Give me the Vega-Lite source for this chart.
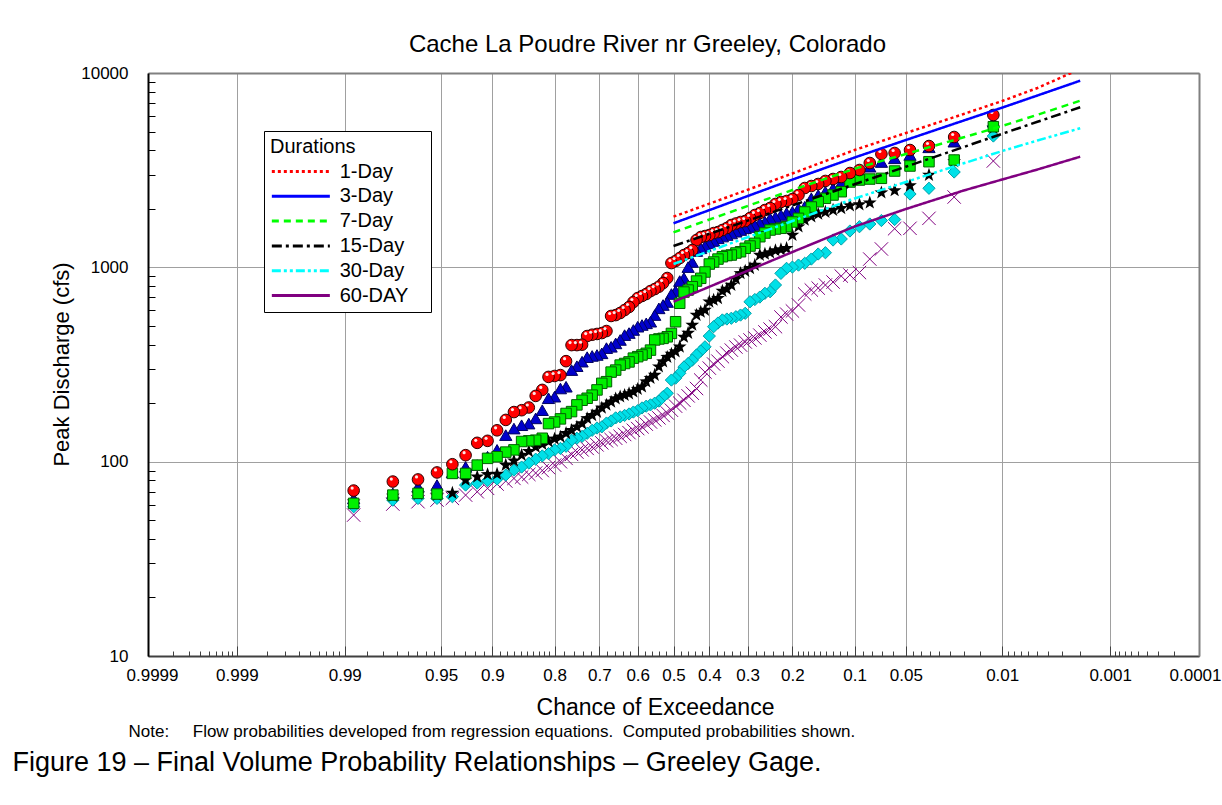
{
  "$schema": "https://vega.github.io/schema/vega-lite/v6.json",
  "width": 1051,
  "height": 583,
  "autosize": {"type": "none"},
  "padding": {"left": 148, "top": 73, "right": 23, "bottom": 149},
  "background": "white",
  "datasets": {
    "d1": [{"p":0.0118,"v":6079},{"p":0.0235,"v":4684},{"p":0.0353,"v":4210},{"p":0.0471,"v":4015},{"p":0.0588,"v":3876},{"p":0.0706,"v":3830},{"p":0.0824,"v":3442},{"p":0.0941,"v":3168},{"p":0.1059,"v":3057},{"p":0.1176,"v":2916},{"p":0.1294,"v":2848},{"p":0.1412,"v":2782},{"p":0.1529,"v":2684},{"p":0.1647,"v":2620},{"p":0.1765,"v":2559},{"p":0.1882,"v":2356},{"p":0.2,"v":2246},{"p":0.2118,"v":2194},{"p":0.2235,"v":2169},{"p":0.2353,"v":2118},{"p":0.2471,"v":2020},{"p":0.2588,"v":1972},{"p":0.2706,"v":1903},{"p":0.2824,"v":1859},{"p":0.2941,"v":1794},{"p":0.3059,"v":1731},{"p":0.3176,"v":1711},{"p":0.3294,"v":1681},{"p":0.3412,"v":1651},{"p":0.3529,"v":1594},{"p":0.3647,"v":1556},{"p":0.3765,"v":1519},{"p":0.3882,"v":1501},{"p":0.4,"v":1466},{"p":0.4118,"v":1449},{"p":0.4235,"v":1432},{"p":0.4353,"v":1382},{"p":0.4471,"v":1227},{"p":0.4588,"v":1185},{"p":0.4706,"v":1157},{"p":0.4824,"v":1117},{"p":0.4941,"v":1078},{"p":0.5059,"v":1052},{"p":0.5176,"v":881},{"p":0.5294,"v":830},{"p":0.5412,"v":795},{"p":0.5529,"v":773},{"p":0.5647,"v":755},{"p":0.5765,"v":729},{"p":0.5882,"v":712},{"p":0.6,"v":695},{"p":0.6118,"v":663},{"p":0.6235,"v":625},{"p":0.6353,"v":603},{"p":0.6471,"v":582},{"p":0.6588,"v":568},{"p":0.6706,"v":562},{"p":0.6824,"v":470},{"p":0.6941,"v":459},{"p":0.7059,"v":454},{"p":0.7176,"v":450},{"p":0.7294,"v":443},{"p":0.7412,"v":400},{"p":0.7529,"v":398},{"p":0.7647,"v":398},{"p":0.7765,"v":329},{"p":0.7882,"v":279},{"p":0.8,"v":276},{"p":0.8118,"v":273},{"p":0.8235,"v":234},{"p":0.8353,"v":218},{"p":0.8471,"v":190},{"p":0.8588,"v":184},{"p":0.8706,"v":180},{"p":0.8824,"v":164},{"p":0.8941,"v":145},{"p":0.9059,"v":128},{"p":0.9176,"v":125},{"p":0.9294,"v":108},{"p":0.9412,"v":97},{"p":0.9529,"v":88},{"p":0.9647,"v":81},{"p":0.9765,"v":79},{"p":0.9882,"v":71}],
    "d3": [{"p":0.0118,"v":5616},{"p":0.0235,"v":4431},{"p":0.0353,"v":4146},{"p":0.0471,"v":3784},{"p":0.0588,"v":3639},{"p":0.0706,"v":3483},{"p":0.0824,"v":3295},{"p":0.0941,"v":3046},{"p":0.1059,"v":2950},{"p":0.1176,"v":2716},{"p":0.1294,"v":2551},{"p":0.1412,"v":2450},{"p":0.1529,"v":2356},{"p":0.1647,"v":2266},{"p":0.1765,"v":2051},{"p":0.1882,"v":2012},{"p":0.2,"v":1933},{"p":0.2118,"v":1903},{"p":0.2235,"v":1859},{"p":0.2353,"v":1815},{"p":0.2471,"v":1787},{"p":0.2588,"v":1717},{"p":0.2706,"v":1690},{"p":0.2824,"v":1651},{"p":0.2941,"v":1612},{"p":0.3059,"v":1588},{"p":0.3176,"v":1556},{"p":0.3294,"v":1525},{"p":0.3412,"v":1493},{"p":0.3529,"v":1466},{"p":0.3647,"v":1440},{"p":0.3765,"v":1410},{"p":0.3882,"v":1366},{"p":0.4,"v":1329},{"p":0.4118,"v":1287},{"p":0.4235,"v":1253},{"p":0.4353,"v":1213},{"p":0.4471,"v":1065},{"p":0.4588,"v":1003},{"p":0.4706,"v":881},{"p":0.4824,"v":850},{"p":0.4941,"v":755},{"p":0.5059,"v":729},{"p":0.5176,"v":663},{"p":0.5294,"v":640},{"p":0.5412,"v":615},{"p":0.5529,"v":568},{"p":0.5647,"v":525},{"p":0.5765,"v":515},{"p":0.5882,"v":505},{"p":0.6,"v":495},{"p":0.6118,"v":476},{"p":0.6235,"v":459},{"p":0.6353,"v":448},{"p":0.6471,"v":423},{"p":0.6588,"v":406},{"p":0.6706,"v":390},{"p":0.6824,"v":384},{"p":0.6941,"v":361},{"p":0.7059,"v":354},{"p":0.7176,"v":350},{"p":0.7294,"v":345},{"p":0.7412,"v":327},{"p":0.7529,"v":310},{"p":0.7647,"v":296},{"p":0.7765,"v":243},{"p":0.7882,"v":238},{"p":0.8,"v":216},{"p":0.8118,"v":212},{"p":0.8235,"v":184},{"p":0.8353,"v":167},{"p":0.8471,"v":157},{"p":0.8588,"v":154},{"p":0.8706,"v":148},{"p":0.8824,"v":137},{"p":0.8941,"v":115},{"p":0.9059,"v":106},{"p":0.9176,"v":96},{"p":0.9294,"v":94},{"p":0.9412,"v":88},{"p":0.9529,"v":75.8},{"p":0.9647,"v":74.3},{"p":0.9765,"v":68.7},{"p":0.9882,"v":64.7}],
    "d7": [{"p":0.0118,"v":5291},{"p":0.0235,"v":3566},{"p":0.0353,"v":3496},{"p":0.0471,"v":3322},{"p":0.0588,"v":3130},{"p":0.0706,"v":2871},{"p":0.0824,"v":2847},{"p":0.0941,"v":2814},{"p":0.1059,"v":2748},{"p":0.1176,"v":2450},{"p":0.1294,"v":2356},{"p":0.1412,"v":2266},{"p":0.1529,"v":2176},{"p":0.1647,"v":2044},{"p":0.1765,"v":1926},{"p":0.1882,"v":1787},{"p":0.2,"v":1711},{"p":0.2118,"v":1618},{"p":0.2235,"v":1588},{"p":0.2353,"v":1575},{"p":0.2471,"v":1556},{"p":0.2588,"v":1501},{"p":0.2706,"v":1437},{"p":0.2824,"v":1329},{"p":0.2941,"v":1287},{"p":0.3059,"v":1253},{"p":0.3176,"v":1203},{"p":0.3294,"v":1185},{"p":0.3412,"v":1157},{"p":0.3529,"v":1150},{"p":0.3647,"v":1134},{"p":0.3765,"v":1103},{"p":0.3882,"v":1065},{"p":0.4,"v":1040},{"p":0.4118,"v":946},{"p":0.4235,"v":878},{"p":0.4353,"v":850},{"p":0.4471,"v":795},{"p":0.4588,"v":764},{"p":0.4706,"v":746},{"p":0.4824,"v":653},{"p":0.4941,"v":525},{"p":0.5059,"v":457},{"p":0.5176,"v":439},{"p":0.5294,"v":431},{"p":0.5412,"v":428},{"p":0.5529,"v":423},{"p":0.5647,"v":375},{"p":0.5765,"v":361},{"p":0.5882,"v":354},{"p":0.6,"v":347},{"p":0.6118,"v":341},{"p":0.6235,"v":326},{"p":0.6353,"v":320},{"p":0.6471,"v":314},{"p":0.6588,"v":296},{"p":0.6706,"v":289},{"p":0.6824,"v":258},{"p":0.6941,"v":253},{"p":0.7059,"v":234},{"p":0.7176,"v":220},{"p":0.7294,"v":212},{"p":0.7412,"v":207},{"p":0.7529,"v":196},{"p":0.7647,"v":181},{"p":0.7765,"v":177},{"p":0.7882,"v":166},{"p":0.8,"v":160},{"p":0.8118,"v":157},{"p":0.8235,"v":132},{"p":0.8353,"v":129},{"p":0.8471,"v":128},{"p":0.8588,"v":127},{"p":0.8706,"v":115},{"p":0.8824,"v":112},{"p":0.8941,"v":106},{"p":0.9059,"v":104},{"p":0.9176,"v":96},{"p":0.9294,"v":87},{"p":0.9412,"v":87},{"p":0.9529,"v":68.1},{"p":0.9647,"v":68.7},{"p":0.9765,"v":67.3},{"p":0.9882,"v":61}],
    "d15": [{"p":0.0118,"v":5212},{"p":0.0235,"v":3500},{"p":0.0353,"v":2985},{"p":0.0471,"v":2636},{"p":0.0588,"v":2485},{"p":0.0706,"v":2421},{"p":0.0824,"v":2150},{"p":0.0941,"v":2105},{"p":0.1059,"v":2080},{"p":0.1176,"v":2012},{"p":0.1294,"v":1972},{"p":0.1412,"v":1926},{"p":0.1529,"v":1881},{"p":0.1647,"v":1822},{"p":0.1765,"v":1752},{"p":0.1882,"v":1618},{"p":0.2,"v":1466},{"p":0.2118,"v":1253},{"p":0.2235,"v":1235},{"p":0.2353,"v":1221},{"p":0.2471,"v":1189},{"p":0.2588,"v":1171},{"p":0.2706,"v":1157},{"p":0.2824,"v":1027},{"p":0.2941,"v":988},{"p":0.3059,"v":957},{"p":0.3176,"v":931},{"p":0.3294,"v":871},{"p":0.3412,"v":811},{"p":0.3529,"v":773},{"p":0.3647,"v":755},{"p":0.3765,"v":693},{"p":0.3882,"v":679},{"p":0.4,"v":665},{"p":0.4118,"v":603},{"p":0.4235,"v":589},{"p":0.4353,"v":568},{"p":0.4471,"v":505},{"p":0.4588,"v":459},{"p":0.4706,"v":438},{"p":0.4824,"v":390},{"p":0.4941,"v":368},{"p":0.5059,"v":358},{"p":0.5176,"v":345},{"p":0.5294,"v":327},{"p":0.5412,"v":308},{"p":0.5529,"v":279},{"p":0.5647,"v":269},{"p":0.5765,"v":258},{"p":0.5882,"v":243},{"p":0.6,"v":236},{"p":0.6118,"v":229},{"p":0.6235,"v":224},{"p":0.6353,"v":220},{"p":0.6471,"v":216},{"p":0.6588,"v":211},{"p":0.6706,"v":203},{"p":0.6824,"v":196},{"p":0.6941,"v":189},{"p":0.7059,"v":180},{"p":0.7176,"v":173},{"p":0.7294,"v":167},{"p":0.7412,"v":157},{"p":0.7529,"v":151},{"p":0.7647,"v":145},{"p":0.7765,"v":140},{"p":0.7882,"v":134},{"p":0.8,"v":131},{"p":0.8118,"v":127},{"p":0.8235,"v":123},{"p":0.8353,"v":119},{"p":0.8471,"v":113},{"p":0.8588,"v":108},{"p":0.8706,"v":101},{"p":0.8824,"v":96},{"p":0.8941,"v":86.4},{"p":0.9059,"v":86},{"p":0.9176,"v":83.6},{"p":0.9294,"v":80.4},{"p":0.9412,"v":68.9},{"p":0.9529,"v":67.3},{"p":0.9647,"v":68.1},{"p":0.9765,"v":66.5},{"p":0.9882,"v":62.2}],
    "d30": [{"p":0.0118,"v":4740},{"p":0.0235,"v":3094},{"p":0.0353,"v":2551},{"p":0.0471,"v":2384},{"p":0.0588,"v":1762},{"p":0.0706,"v":1741},{"p":0.0824,"v":1671},{"p":0.0941,"v":1618},{"p":0.1059,"v":1538},{"p":0.1176,"v":1399},{"p":0.1294,"v":1382},{"p":0.1412,"v":1189},{"p":0.1529,"v":1171},{"p":0.1647,"v":1103},{"p":0.1765,"v":1049},{"p":0.1882,"v":1027},{"p":0.2,"v":1003},{"p":0.2118,"v":988},{"p":0.2235,"v":931},{"p":0.2353,"v":811},{"p":0.2471,"v":749},{"p":0.2588,"v":735},{"p":0.2706,"v":703},{"p":0.2824,"v":683},{"p":0.2941,"v":665},{"p":0.3059,"v":580},{"p":0.3176,"v":568},{"p":0.3294,"v":557},{"p":0.3412,"v":547},{"p":0.3529,"v":542},{"p":0.3647,"v":536},{"p":0.3765,"v":517},{"p":0.3882,"v":495},{"p":0.4,"v":443},{"p":0.4118,"v":390},{"p":0.4235,"v":371},{"p":0.4353,"v":354},{"p":0.4471,"v":333},{"p":0.4588,"v":320},{"p":0.4706,"v":307},{"p":0.4824,"v":285},{"p":0.4941,"v":269},{"p":0.5059,"v":263},{"p":0.5176,"v":225},{"p":0.5294,"v":216},{"p":0.5412,"v":205},{"p":0.5529,"v":200},{"p":0.5647,"v":196},{"p":0.5765,"v":193},{"p":0.5882,"v":189},{"p":0.6,"v":183},{"p":0.6118,"v":180},{"p":0.6235,"v":176},{"p":0.6353,"v":173},{"p":0.6471,"v":170},{"p":0.6588,"v":168},{"p":0.6706,"v":162},{"p":0.6824,"v":158},{"p":0.6941,"v":151},{"p":0.7059,"v":149},{"p":0.7176,"v":145},{"p":0.7294,"v":140},{"p":0.7412,"v":135},{"p":0.7529,"v":132},{"p":0.7647,"v":129},{"p":0.7765,"v":120},{"p":0.7882,"v":117},{"p":0.8,"v":115},{"p":0.8118,"v":110},{"p":0.8235,"v":107},{"p":0.8353,"v":103},{"p":0.8471,"v":98.4},{"p":0.8588,"v":93.8},{"p":0.8706,"v":90.5},{"p":0.8824,"v":85.3},{"p":0.8941,"v":81.4},{"p":0.9059,"v":79.9},{"p":0.9176,"v":77.6},{"p":0.9294,"v":75.8},{"p":0.9412,"v":66},{"p":0.9529,"v":64.7},{"p":0.9647,"v":64.7},{"p":0.9765,"v":63.4},{"p":0.9882,"v":58.6}],
    "d60": [{"p":0.0118,"v":3525},{"p":0.0235,"v":2300},{"p":0.0353,"v":1787},{"p":0.0471,"v":1588},{"p":0.0588,"v":1580},{"p":0.0706,"v":1243},{"p":0.0824,"v":1103},{"p":0.0941,"v":940},{"p":0.1059,"v":913},{"p":0.1176,"v":902},{"p":0.1294,"v":840},{"p":0.1412,"v":811},{"p":0.1529,"v":782},{"p":0.1647,"v":764},{"p":0.1765,"v":729},{"p":0.1882,"v":640},{"p":0.2,"v":596},{"p":0.2118,"v":575},{"p":0.2235,"v":555},{"p":0.2353,"v":495},{"p":0.2471,"v":481},{"p":0.2588,"v":465},{"p":0.2706,"v":448},{"p":0.2824,"v":433},{"p":0.2941,"v":423},{"p":0.3059,"v":413},{"p":0.3176,"v":398},{"p":0.3294,"v":389},{"p":0.3412,"v":375},{"p":0.3529,"v":362},{"p":0.3647,"v":347},{"p":0.3765,"v":329},{"p":0.3882,"v":318},{"p":0.4,"v":303},{"p":0.4118,"v":289},{"p":0.4235,"v":263},{"p":0.4353,"v":238},{"p":0.4471,"v":225},{"p":0.4588,"v":218},{"p":0.4706,"v":207},{"p":0.4824,"v":200},{"p":0.4941,"v":193},{"p":0.5059,"v":184},{"p":0.5176,"v":178},{"p":0.5294,"v":173},{"p":0.5412,"v":168},{"p":0.5529,"v":164},{"p":0.5647,"v":160},{"p":0.5765,"v":156},{"p":0.5882,"v":151},{"p":0.6,"v":148},{"p":0.6118,"v":145},{"p":0.6235,"v":141},{"p":0.6353,"v":138},{"p":0.6471,"v":135},{"p":0.6588,"v":132},{"p":0.6706,"v":130},{"p":0.6824,"v":128},{"p":0.6941,"v":125},{"p":0.7059,"v":122},{"p":0.7176,"v":119},{"p":0.7294,"v":117},{"p":0.7412,"v":115},{"p":0.7529,"v":112},{"p":0.7647,"v":109},{"p":0.7765,"v":104},{"p":0.7882,"v":99.9},{"p":0.8,"v":96},{"p":0.8118,"v":93.2},{"p":0.8235,"v":90},{"p":0.8353,"v":87.4},{"p":0.8471,"v":86},{"p":0.8588,"v":83.3},{"p":0.8706,"v":82},{"p":0.8824,"v":79.5},{"p":0.8941,"v":76.7},{"p":0.9059,"v":72.9},{"p":0.9176,"v":70},{"p":0.9294,"v":67.3},{"p":0.9412,"v":64.7},{"p":0.9529,"v":63.4},{"p":0.9647,"v":62.2},{"p":0.9765,"v":60.5},{"p":0.9882,"v":53.1}],
    "curves": [
      {"d":"1-Day","p":0.5,"v":1822},{"d":"1-Day","p":0.2,"v":3040},{"d":"1-Day","p":0.1,"v":4015},{"d":"1-Day","p":0.05,"v":4912},{"d":"1-Day","p":0.02,"v":6152},{"d":"1-Day","p":0.01,"v":7178},{"d":"1-Day","p":0.005,"v":8373},{"d":"1-Day","p":0.002,"v":10486},
      {"d":"3-Day","p":0.5,"v":1685},{"d":"3-Day","p":0.2,"v":2828},{"d":"3-Day","p":0.1,"v":3674},{"d":"3-Day","p":0.05,"v":4521},{"d":"3-Day","p":0.02,"v":5694},{"d":"3-Day","p":0.01,"v":6636},{"d":"3-Day","p":0.005,"v":7661},{"d":"3-Day","p":0.002,"v":9128},
      {"d":"7-Day","p":0.5,"v":1514},{"d":"7-Day","p":0.2,"v":2499},{"d":"7-Day","p":0.1,"v":3217},{"d":"7-Day","p":0.05,"v":3830},{"d":"7-Day","p":0.02,"v":4668},{"d":"7-Day","p":0.01,"v":5337},{"d":"7-Day","p":0.005,"v":6094},{"d":"7-Day","p":0.002,"v":7202},
      {"d":"15-Day","p":0.5,"v":1287},{"d":"15-Day","p":0.2,"v":2083},{"d":"15-Day","p":0.1,"v":2677},{"d":"15-Day","p":0.05,"v":3295},{"d":"15-Day","p":0.02,"v":4160},{"d":"15-Day","p":0.01,"v":4866},{"d":"15-Day","p":0.005,"v":5609},{"d":"15-Day","p":0.002,"v":6660},
      {"d":"30-Day","p":0.5,"v":1040},{"d":"30-Day","p":0.2,"v":1731},{"d":"30-Day","p":0.1,"v":2260},{"d":"30-Day","p":0.05,"v":2748},{"d":"30-Day","p":0.02,"v":3430},{"d":"30-Day","p":0.01,"v":3968},{"d":"30-Day","p":0.005,"v":4494},{"d":"30-Day","p":0.002,"v":5194},
      {"d":"60-DAY","p":0.5,"v":665},{"d":"60-DAY","p":0.2,"v":1199},{"d":"60-DAY","p":0.1,"v":1622},{"d":"60-DAY","p":0.05,"v":1996},{"d":"60-DAY","p":0.02,"v":2485},{"d":"60-DAY","p":0.01,"v":2831},{"d":"60-DAY","p":0.005,"v":3187},{"d":"60-DAY","p":0.002,"v":3709}
    ]
  },
  "layer": [
    {
      "data": {"name": "d60"},
      "transform": [{"calculate": "quantileNormal(1 - datum.p)", "as": "z"}],
      "mark": {"type": "point", "shape": "M-1,-1L1,1M-1,1L1,-1", "filled": false, "stroke": "#800080", "strokeWidth": 1, "size": 180, "opacity": 1},
      "encoding": {
        "x": {"field": "z", "type": "quantitative", "scale": {"domain": [-3.719016, 3.719016], "nice": false, "zero": false},
          "axis": {"orient": "bottom", "values": [-3.719016,-3.090232,-2.326348,-1.644854,-1.281552,-0.841621,-0.524401,-0.253347,0,0.253347,0.524401,0.841621,1.281552,1.644854,2.326348,3.090232,3.719016],
            "labelExpr": "format(1 - cumulativeNormal(datum.value), '.4~r')", "labelOverlap": false, "labelFlush": true, "labelFlushOffset": 22, "labelBound": false,
            "grid": true, "gridColor": "#a0a0a0", "gridWidth": 1, "ticks": false, "domain": true, "domainColor": "#404040", "domainWidth": 2,
            "labelFontSize": 17, "labelPadding": 11, "labelColor": "#000000",
            "title": "Chance of Exceedance", "titleFontSize": 23, "titleFontWeight": "normal", "titleColor": "#000000",
            "titleX": 507, "titleY": 51, "titleAlign": "center", "titleBaseline": "middle"}},
        "y": {"field": "v", "type": "quantitative", "scale": {"type": "log", "domain": [10, 10000], "nice": false},
          "axis": {"orient": "left", "values": [10, 100, 1000, 10000], "format": "d", "labelOverlap": false, "labelFlush": false,
            "grid": true, "gridColor": "#a0a0a0", "gridWidth": 1, "ticks": false, "domain": true, "domainColor": "#000000", "domainWidth": 2,
            "labelFontSize": 17, "labelPadding": 20, "labelColor": "#000000",
            "title": "Peak Discharge (cfs)", "titleFontSize": 22, "titleFontWeight": "normal", "titleColor": "#000000",
            "titleX": -87, "titleY": 291, "titleAlign": "center", "titleBaseline": "middle", "titleAngle": -90}}
      }
    },
    {
      "data": {"name": "d30"},
      "transform": [{"calculate": "quantileNormal(1 - datum.p)", "as": "z"}],
      "mark": {"type": "point", "shape": "diamond", "filled": true, "fill": "#00e0e8", "stroke": "#00a0a8", "strokeWidth": 1, "size": 150, "opacity": 1},
      "encoding": {
        "x": {"field": "z", "type": "quantitative",
          "axis": {"orient": "top", "labels": false, "ticks": false, "grid": false, "domain": true, "domainColor": "#808080", "domainWidth": 2,
            "title": "Cache La Poudre River nr Greeley, Colorado", "titleFontSize": 24, "titleFontWeight": "normal", "titleColor": "#000000",
            "titleX": 499, "titleY": -29, "titleAlign": "center", "titleBaseline": "middle"}},
        "y": {"field": "v", "type": "quantitative",
          "axis": {"orient": "right", "labels": false, "ticks": false, "grid": false, "domain": true, "domainColor": "#808080", "domainWidth": 2, "title": null}}
      }
    },
    {
      "data": {"name": "d15"},
      "transform": [{"calculate": "quantileNormal(1 - datum.p)", "as": "z"}],
      "mark": {"type": "point", "shape": "M0,-1L0.235,-0.324L0.951,-0.309L0.38,0.124L0.588,0.809L0,0.4L-0.588,0.809L-0.38,0.124L-0.951,-0.309L-0.235,-0.324Z", "filled": true, "fill": "#000000", "size": 210, "opacity": 1},
      "encoding": {
        "x": {"field": "z", "type": "quantitative", "axis": null},
        "y": {"field": "v", "type": "quantitative", "axis": null}
      }
    },
    {
      "data": {"name": "d3"},
      "transform": [{"calculate": "quantileNormal(1 - datum.p)", "as": "z"}],
      "mark": {"type": "point", "shape": "triangle-up", "filled": true, "fill": "#0000cc", "stroke": "#000060", "strokeWidth": 1, "size": 150, "opacity": 1},
      "encoding": {
        "x": {"field": "z", "type": "quantitative", "axis": null},
        "y": {"field": "v", "type": "quantitative", "axis": null}
      }
    },
    {
      "data": {"name": "d7"},
      "transform": [{"calculate": "quantileNormal(1 - datum.p)", "as": "z"}],
      "mark": {"type": "point", "shape": "square", "filled": true, "fill": "#00f000", "stroke": "#006000", "strokeWidth": 1, "size": 110, "opacity": 1},
      "encoding": {
        "x": {"field": "z", "type": "quantitative", "axis": null},
        "y": {"field": "v", "type": "quantitative", "axis": null}
      }
    },
    {
      "data": {"name": "d1"},
      "transform": [{"calculate": "quantileNormal(1 - datum.p)", "as": "z"}],
      "mark": {"type": "point", "shape": "circle", "filled": true, "fill": "#ff0000", "stroke": "#300000", "strokeWidth": 1, "size": 135, "opacity": 1},
      "encoding": {
        "x": {"field": "z", "type": "quantitative",
          "axis": {"orient": "bottom", "values": [-3.719016,-3.090232,-2.326348,-1.644854,-1.281552,-0.841621,-0.524401,-0.253347,0,0.253347,0.524401,0.841621,1.281552,1.644854,2.326348,3.090232,3.719016],
            "labels": false, "grid": false, "domain": false, "ticks": true, "tickSize": -10, "tickColor": "#404040", "tickWidth": 1,
            "title": "Note:\u00a0\u00a0\u00a0\u00a0 Flow probabilities developed from regression equations.\u00a0 Computed probabilities shown.",
            "titleFontSize": 17, "titleFontWeight": "normal", "titleColor": "#000000", "titleFont": "Liberation Sans Narrow, Liberation Sans",
            "titleX": -20, "titleY": 75, "titleAlign": "left", "titleBaseline": "middle"}},
        "y": {"field": "v", "type": "quantitative", "axis": null}
      }
    },
    {
      "data": {"name": "d1"},
      "transform": [{"calculate": "quantileNormal(1 - datum.p)", "as": "z"}],
      "mark": {"type": "point", "shape": "circle", "filled": true, "fill": "#ffffff", "size": 10, "xOffset": -1.5, "yOffset": -2.5, "opacity": 0.9},
      "encoding": {
        "x": {"field": "z", "type": "quantitative", "axis": null},
        "y": {"field": "v", "type": "quantitative", "axis": null}
      }
    },
    {
      "data": {"name": "curves"},
      "transform": [{"calculate": "quantileNormal(1 - datum.p)", "as": "z"}],
      "mark": {"type": "line", "strokeWidth": 2.5, "clip": true},
      "encoding": {
        "x": {"field": "z", "type": "quantitative",
          "axis": {"orient": "bottom", "values": [-3.5401,-3.4316,-3.3528,-3.2905,-3.2389,-3.1947,-3.1559,-3.1214,-2.8782,-2.7478,-2.6521,-2.5758,-2.5121,-2.4573,-2.4089,-2.3656,-2.1701,-2.0537,-1.96,-1.8808,-1.8119,-1.7507,-1.6954,-1.5548,-1.4758,-1.4051,-1.3408,-1.2265,-1.175,-1.1264,-1.0803,-1.0364,-0.9945,-0.9542,-0.9154,-0.8779,-0.7722,-0.7063,-0.6433,-0.5828,-0.4677,-0.4125,-0.3585,-0.3055,-0.2019,-0.151,-0.1004,-0.0502,0.0502,0.1004,0.151,0.2019,0.3055,0.3585,0.4125,0.4677,0.5828,0.6433,0.7063,0.7722,0.8779,0.9154,0.9542,0.9945,1.0364,1.0803,1.1264,1.175,1.2265,1.3408,1.4051,1.4758,1.5548,1.6954,1.7507,1.8119,1.8808,1.96,2.0537,2.1701,2.3656,2.4089,2.4573,2.5121,2.5758,2.6521,2.7478,2.8782,3.1214,3.1559,3.1947,3.2389,3.2905,3.3528,3.4316,3.5401],
            "labels": false, "grid": false, "domain": false, "ticks": true, "tickSize": -5, "tickColor": "#404040", "tickWidth": 1,
            "title": "Figure 19 \u2013 Final Volume Probability Relationships \u2013 Greeley Gage.",
            "titleFontSize": 27, "titleFontWeight": "normal", "titleColor": "#000000",
            "titleX": -136, "titleY": 106, "titleAlign": "left", "titleBaseline": "middle"}},
        "y": {"field": "v", "type": "quantitative",
          "axis": {"orient": "left", "values": [20,30,40,50,60,70,80,90,200,300,400,500,600,700,800,900,2000,3000,4000,5000,6000,7000,8000,9000],
            "labels": false, "grid": false, "domain": false, "ticks": true, "tickSize": -7, "tickColor": "#000000", "tickWidth": 1, "title": null}},
        "color": {"field": "d", "type": "nominal", "title": "Durations",
          "scale": {"domain": ["1-Day","3-Day","7-Day","15-Day","30-Day","60-DAY"], "range": ["#ff0000","#0000ff","#00ff00","#000000","#00ffff","#800080"]},
          "legend": {"labelExpr": "datum.label + '\u00a0\u00a0\u00a0\u200b'"}},
        "strokeDash": {"field": "d", "type": "nominal", "title": "Durations",
          "scale": {"domain": ["1-Day","3-Day","7-Day","15-Day","30-Day","60-DAY"], "range": [[3,3],[1,0],[7,5],[10,4,3,4],[9,3,3,3,3,3],[1,0]]},
          "legend": {"labelExpr": "datum.label + '\u00a0\u00a0\u00a0\u200b'"}}
      }
    }
  ],
  "resolve": {"axis": {"x": "independent", "y": "independent"}},
  "config": {
    "font": "Liberation Sans",
    "view": {"stroke": null},
    "axis": {"labelFont": "Liberation Sans", "titleFont": "Liberation Sans"},
    "legend": {
      "orient": "none", "legendX": 116, "legendY": 58,
      "titleFontSize": 20, "titleFontWeight": "normal", "titleColor": "#000000", "titleFont": "Liberation Sans",
      "labelFontSize": 20, "labelColor": "#000000", "labelFont": "Liberation Sans", "labelOffset": 46.7, "labelLimit": 300,
      "symbolType": "M-1,0L5,0", "symbolSize": 374, "symbolStrokeWidth": 3,
      "padding": 6, "rowPadding": 2.8, "titlePadding": 3,
      "strokeColor": "#000000", "fillColor": "#ffffff"
    }
  }
}
